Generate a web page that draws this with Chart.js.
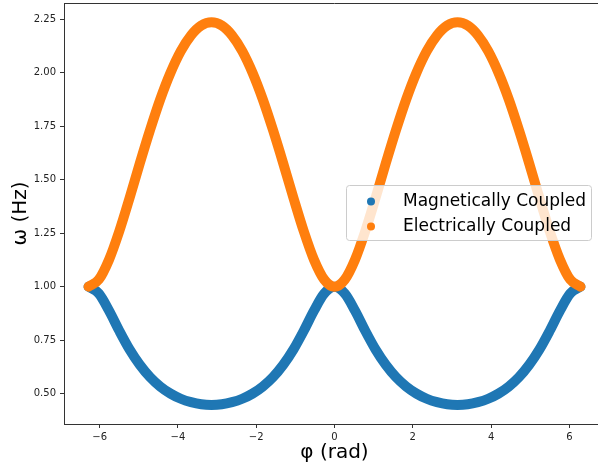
<!DOCTYPE html>
<html>
<head>
<meta charset="utf-8">
<script src="https://cdn.jsdelivr.net/npm/chart.js@4/dist/chart.umd.min.js"></script>
<style>
  html, body { margin: 0; padding: 0; background: #fff; overflow: hidden; }
  #wrap { width: 606px; height: 469px; }
</style>
</head>
<body>
<div id="wrap"><canvas id="dispersion" width="606" height="469"></canvas></div>
<script>
// phase (rad) and frequency values
const phi = [-6.283, -6.021, -5.760, -5.498, -5.236, -4.974, -4.712, -4.451, -4.189, -3.927, -3.665, -3.403,
  -3.142, -2.880, -2.618, -2.356, -2.094, -1.833, -1.571, -1.309, -1.047, -0.785, -0.524, -0.262,
  0, 0.262, 0.524, 0.785, 1.047, 1.309, 1.571, 1.833, 2.094, 2.356, 2.618, 2.880,
  3.142, 3.403, 3.665, 3.927, 4.189, 4.451, 4.712, 4.974, 5.236, 5.498, 5.760, 6.021, 6.283];

const magnetic = [1.000, 0.968, 0.888, 0.794, 0.707, 0.635, 0.577, 0.533, 0.500, 0.476, 0.460, 0.450,
  0.447, 0.450, 0.460, 0.476, 0.500, 0.533, 0.577, 0.635, 0.707, 0.794, 0.888, 0.968,
  1.000, 0.968, 0.888, 0.794, 0.707, 0.635, 0.577, 0.533, 0.500, 0.476, 0.460, 0.450,
  0.447, 0.450, 0.460, 0.476, 0.500, 0.533, 0.577, 0.635, 0.707, 0.794, 0.888, 0.968, 1.000];

const electric = [1.000, 1.033, 1.126, 1.259, 1.414, 1.576, 1.732, 1.876, 2.000, 2.101, 2.175, 2.221,
  2.236, 2.221, 2.175, 2.101, 2.000, 1.876, 1.732, 1.576, 1.414, 1.259, 1.126, 1.033,
  1.000, 1.033, 1.126, 1.259, 1.414, 1.576, 1.732, 1.876, 2.000, 2.101, 2.175, 2.221,
  2.236, 2.221, 2.175, 2.101, 2.000, 1.876, 1.732, 1.576, 1.414, 1.259, 1.126, 1.033, 1.000];

const seriesNames = ['Magnetically Coupled', 'Electrically Coupled'];
const xTicks = [-6, -4, -2, 0, 2, 4, 6];
const yTicks = [0.50, 0.75, 1.00, 1.25, 1.50, 1.75, 2.00, 2.25];

const BLUE = '#1f77b4';
const ORANGE = '#ff7f0e';
const AXIS = '#333333';

function pairs(ys) {
  return phi.map((x, i) => ({ x: x, y: ys[i] }));
}

function lineSet(label, ys, color, order) {
  return {
    label: label,
    data: pairs(ys),
    showLine: true,
    borderColor: color,
    backgroundColor: color,
    borderWidth: 10,
    borderCapStyle: 'round',
    borderJoinStyle: 'round',
    cubicInterpolationMode: 'monotone',
    pointRadius: 0,
    order: order
  };
}

// top spine + legend box in the middle right, like matplotlib
const frameAndLegend = {
  id: 'frameAndLegend',
  afterDatasetsDraw(chart) {
    const ctx = chart.ctx;
    const a = chart.chartArea;
    ctx.save();
    ctx.strokeStyle = AXIS;
    ctx.lineWidth = 1;
    ctx.beginPath();
    ctx.moveTo(a.left, a.top + 0.5);
    ctx.lineTo(a.right, a.top + 0.5);
    ctx.stroke();

    const bx = 346.5, by = 185.5, bw = 245, bh = 55;
    ctx.beginPath();
    ctx.roundRect(bx, by, bw, bh, 3);
    ctx.fillStyle = 'rgba(255,255,255,0.8)';
    ctx.fill();
    ctx.strokeStyle = '#cccccc';
    ctx.stroke();

    const colors = [BLUE, ORANGE];
    ctx.font = '17px "DejaVu Sans"';
    ctx.textBaseline = 'middle';
    ctx.textAlign = 'left';
    seriesNames.forEach((name, i) => {
      const cy = 201.5 + i * 25;
      ctx.beginPath();
      ctx.arc(371, cy, 4, 0, Math.PI * 2);
      ctx.fillStyle = colors[i];
      ctx.fill();
      ctx.fillStyle = '#000';
      ctx.fillText(name, 403, cy);
    });
    ctx.restore();
  }
};

const ctx = document.getElementById('dispersion').getContext('2d');

new Chart(ctx, {
  type: 'scatter',
  data: {
    datasets: [
      lineSet(seriesNames[0], magnetic, BLUE, 1),
      lineSet(seriesNames[1], electric, ORANGE, 0)
    ]
  },
  options: {
    responsive: false,
    animation: false,
    devicePixelRatio: 1,
    layout: { padding: { top: 3, right: 1, left: 0, bottom: 0 } },
    plugins: {
      legend: { display: false },
      tooltip: { enabled: false }
    },
    scales: {
      x: {
        type: 'linear',
        min: -6.91,
        max: 6.91,
        afterBuildTicks: (s) => { s.ticks = xTicks.map(v => ({ value: v })); },
        afterFit: (s) => { s.height = 45; s.paddingLeft = 0; s.paddingRight = 0; },
        border: { display: true, color: AXIS, width: 1 },
        grid: { drawOnChartArea: false, drawTicks: true, tickLength: 4, color: AXIS },
        ticks: {
          color: '#222',
          padding: 3,
          maxRotation: 0,
          font: { family: 'DejaVu Sans', size: 10 },
          callback: (v) => (v < 0 ? '\u2212' + Math.abs(v) : String(v))
        },
        title: {
          display: true,
          text: 'φ (rad)',
          color: '#000',
          font: { family: 'DejaVu Sans', size: 20 },
          padding: { top: 0, bottom: 4 }
        }
      },
      y: {
        type: 'linear',
        min: 0.358,
        max: 2.326,
        afterBuildTicks: (s) => { s.ticks = yTicks.map(v => ({ value: v })); },
        afterFit: (s) => { s.width = 64; s.paddingTop = 0; s.paddingBottom = 0; },
        border: { display: true, color: AXIS, width: 1 },
        grid: { drawOnChartArea: false, drawTicks: true, tickLength: 4, color: AXIS },
        ticks: {
          color: '#222',
          padding: 4,
          font: { family: 'DejaVu Sans', size: 10 },
          callback: (v) => Number(v).toFixed(2)
        },
        title: {
          display: true,
          text: 'ω (Hz)',
          color: '#000',
          font: { family: 'DejaVu Sans', size: 20 },
          padding: { top: 9, bottom: 0 }
        }
      }
    }
  },
  plugins: [frameAndLegend]
});
</script>
</body>
</html>
